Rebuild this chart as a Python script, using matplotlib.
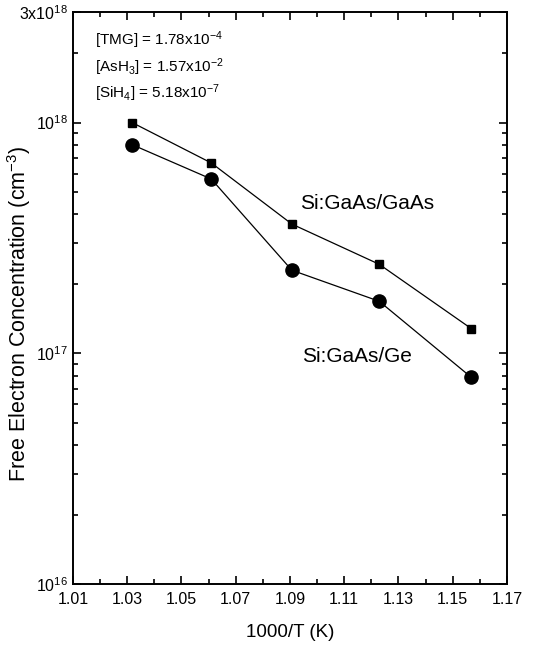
import numpy as np
import matplotlib
matplotlib.use("Agg")
import matplotlib.pyplot as plt
from matplotlib.ticker import FixedLocator, LogLocator, NullFormatter, MultipleLocator

plt.rcParams['font.family'] = ['Liberation Sans', 'DejaVu Sans']
plt.rcParams['mathtext.fontset'] = 'custom'
plt.rcParams['mathtext.rm'] = 'Liberation Sans'
plt.rcParams['mathtext.it'] = 'Liberation Sans:italic'

# datos
inv_T = [1.0318, 1.0610, 1.0907, 1.1229, 1.1568]
n_gaas = [1.0e18, 6.68e17, 3.63e17, 2.43e17, 1.28e17]
n_ge = [8.02e17, 5.69e17, 2.29e17, 1.68e17, 7.87e16]

x_ticks = [1.01, 1.03, 1.05, 1.07, 1.09, 1.11, 1.13, 1.15, 1.17]
y_ticks = [1e16, 1e17, 1e18, 3e18]
y_labels = ['10$^{16}$', '10$^{17}$', '10$^{18}$', '3x10$^{18}$']

fig = plt.figure(figsize=(5.58, 6.46), dpi=100)
ax = fig.add_axes([0.1308, 0.096, 0.7778, 0.8847])

ax.plot(inv_T, n_gaas, color='black', lw=0.9, marker='s', ms=6, mfc='black', mec='black')
ax.plot(inv_T, n_ge, color='black', lw=0.9, marker='o', ms=9.5, mfc='black', mec='black')

ax.set_yscale('log')
ax.set_xlim(1.01, 1.17)
ax.set_ylim(1e16, 3e18)

ax.xaxis.set_major_locator(FixedLocator(x_ticks))
ax.xaxis.set_minor_locator(MultipleLocator(0.01))
ax.set_xticklabels([f'{v:.2f}' for v in x_ticks])
ax.yaxis.set_major_locator(FixedLocator(y_ticks))
ax.set_yticklabels(y_labels)
ax.yaxis.set_minor_locator(LogLocator(base=10, subs=np.arange(2, 10)))
ax.yaxis.set_minor_formatter(NullFormatter())

ax.tick_params(which='both', direction='in', top=True, right=True, width=1.2, labelsize=11.5)
ax.tick_params(which='major', length=6)
ax.tick_params(which='minor', length=3.5)
ax.tick_params(axis='x', which='major', pad=6)
ax.tick_params(axis='y', which='major', pad=3.5)
for s in ax.spines.values():
    s.set_linewidth(1.4)

ax.set_xlabel('1000/T (K)', fontsize=13.5, labelpad=12)
ax.set_ylabel('Free Electron Concentration (cm$^{-3}$)', fontsize=15.5)
ax.yaxis.set_label_coords(-0.092, 0.472)

# condiciones de crecimiento
ax.text(0.05, 0.952, '[TMG] = 1.78x10$^{-4}$', transform=ax.transAxes, fontsize=11, va='center')
ax.text(0.05, 0.905, '[AsH$_3$] = 1.57x10$^{-2}$', transform=ax.transAxes, fontsize=11, va='center')
ax.text(0.05, 0.859, '[SiH$_4$] = 5.18x10$^{-7}$', transform=ax.transAxes, fontsize=11, va='center')

ax.text(1.0937, 4.45e17, 'Si:GaAs/GaAs', fontsize=15, va='center')
ax.text(1.0944, 9.7e16, 'Si:GaAs/Ge', fontsize=15, va='center')

fig.savefig('out.png', dpi=100)
